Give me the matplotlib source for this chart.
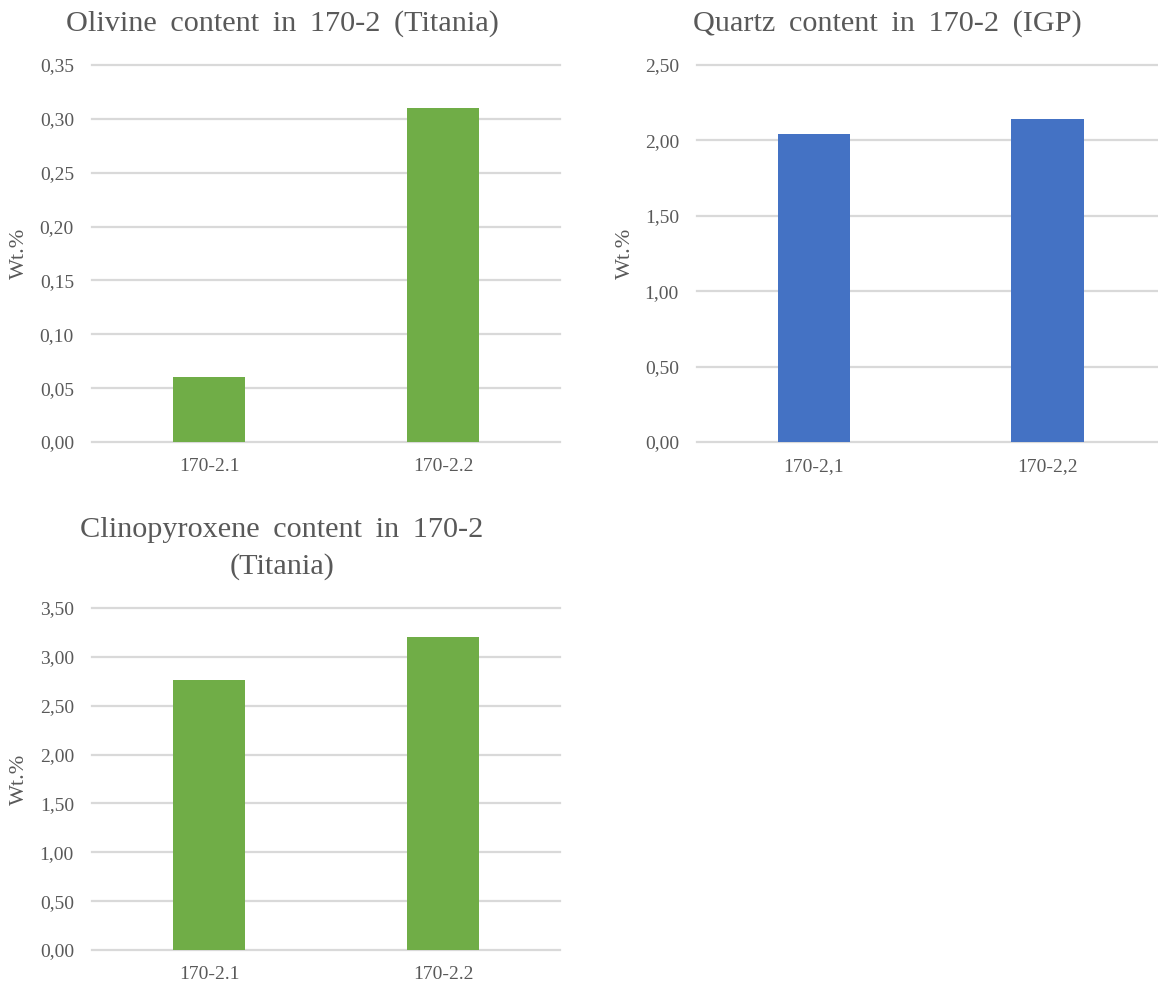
import matplotlib
matplotlib.use("Agg")
import matplotlib.pyplot as plt
from matplotlib.ticker import FuncFormatter, MultipleLocator

# sample data (wt.%)
olivine_samples = ["170-2.1", "170-2.2"]
olivine_wt = [0.06, 0.31]

quartz_samples = ["170-2,1", "170-2,2"]
quartz_wt = [2.04, 2.14]

cpx_samples = ["170-2.1", "170-2.2"]
cpx_wt = [2.76, 3.20]

GREEN = "#70AD47"
BLUE = "#4472C4"
GRID = "#D9D9D9"
TEXT = "#595959"

plt.rcParams["font.family"] = ["Liberation Serif", "DejaVu Serif"]

W, H = 1158, 989
fig = plt.figure(figsize=(W / 100, H / 100), dpi=100)
fig.patch.set_facecolor("white")

# word gap a bit wider than a normal space
GAP = " \u2009"


def px_axes(left, top, right, bottom):
    return fig.add_axes([left / W, 1 - bottom / H, (right - left) / W, (bottom - top) / H])


def comma_fmt(v, pos):
    return f"{v:.2f}".replace(".", ",")


def title(x, y, words):
    fig.text(x / W, 1 - y / H, GAP.join(words.split()),
             ha="center", va="baseline", fontsize=21.8, color=TEXT)


def bar_panel(ax, labels, values, color, ymax, step, xmax=1.5):
    x = range(len(labels))
    ax.bar(x, values, width=0.31, color=color, zorder=3)
    ax.set_xlim(-0.5, xmax)
    ax.set_ylim(0, ymax)
    ax.yaxis.set_major_locator(MultipleLocator(step))
    ax.yaxis.set_major_formatter(FuncFormatter(comma_fmt))
    ax.set_xticks(list(x))
    ax.set_xticklabels(labels)
    ax.grid(axis="y", color=GRID, linewidth=1.6, zorder=0)
    for gl in ax.get_ygridlines():
        gl.set_clip_on(False)
    for s in ax.spines.values():
        s.set_visible(False)
    ax.tick_params(axis="both", length=0, labelsize=14, colors=TEXT)
    ax.tick_params(axis="y", pad=13)
    ax.tick_params(axis="x", pad=11.5)
    ax.set_ylabel("Wt.%", fontsize=16, color=TEXT)


ax1 = px_axes(92, 65, 560, 442)
bar_panel(ax1, olivine_samples, olivine_wt, GREEN, 0.35, 0.05)
ax1.yaxis.set_label_coords(-0.135, 0.5)
title(282, 31, "Olivine content in 170-2 (Titania)")

ax2 = px_axes(697, 65, 1158, 442)
bar_panel(ax2, quartz_samples, quartz_wt, BLUE, 2.5, 0.5, xmax=1.474)
ax2.yaxis.set_label_coords(-0.134, 0.5)
title(887, 31, "Quartz content in 170-2 (IGP)")

ax3 = px_axes(92, 608, 560, 950)
bar_panel(ax3, cpx_samples, cpx_wt, GREEN, 3.5, 0.5)
ax3.yaxis.set_label_coords(-0.135, 0.5)
title(282, 537, "Clinopyroxene content in 170-2")
title(282, 574, "(Titania)")

fig.savefig("out.png", dpi=100, facecolor="white")
